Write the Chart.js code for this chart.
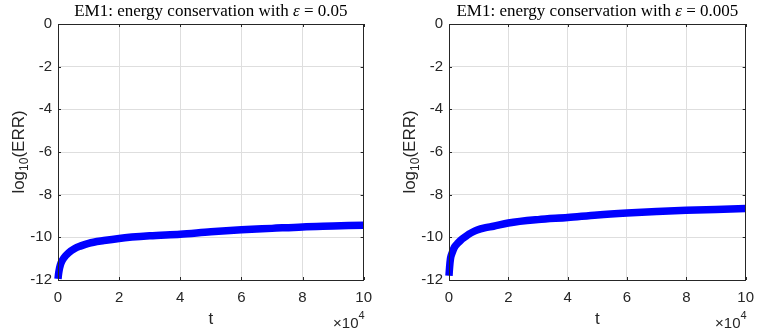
<!DOCTYPE html>
<html>
<head>
<meta charset="utf-8">
<script src="https://cdn.jsdelivr.net/npm/chart.js@4"></script>
<style>
  body { margin: 0; background: #fff; }
  #wrap { position: relative; width: 763px; height: 335px; }
  canvas { position: absolute; top: 0; }
</style>
</head>
<body>
<div id="wrap">
  <canvas id="left" width="381" height="335" style="left:0"></canvas>
  <canvas id="right" width="372" height="335" style="left:391px"></canvas>
</div>
<script>
// values
const tLeft = [0, 200, 500, 1000, 2000, 3500, 5500, 7500, 10000, 15000, 20000,
  30000, 40000, 50000, 60000, 70000, 80000, 90000, 100000];
const errLeft = [-11.95, -11.7, -11.45, -11.2, -10.95, -10.72, -10.52, -10.4, -10.28, -10.15, -10.05,
  -9.93, -9.85, -9.74, -9.65, -9.58, -9.51, -9.47, -9.43];

const tRight = [0, 200, 500, 1000, 1800, 3000, 4000, 5500, 6700, 8000, 9500, 12000, 15000,
  20000, 30000, 40000, 50000, 60000, 70000, 80000, 90000, 100000];
const errRight = [-11.8, -11.4, -11.0, -10.75, -10.47, -10.27, -10.13, -9.97, -9.85, -9.75, -9.66, -9.56, -9.48,
  -9.33, -9.17, -9.07, -8.95, -8.86, -8.79, -8.73, -8.69, -8.65];

const epsValues = ['0.05', '0.005'];
const xTickStep = 20000;
const yTickStep = 2;

const axisColor = '#262626';

// MATLAB-style box, inward ticks, title, y label and exponent
const matlabDecor = {
    id: 'matlabDecor',
    afterDraw(chart, args, opts) {
        const ctx = chart.ctx;
        const a = chart.chartArea;
        const xs = chart.scales.x;
        const ys = chart.scales.y;
        ctx.save();
        ctx.strokeStyle = axisColor;
        ctx.lineWidth = 1;
        ctx.strokeRect(Math.round(a.left) + 0.5, Math.round(a.top) + 0.5,
            Math.round(a.right - a.left) - 1, Math.round(a.bottom - a.top));
        ctx.beginPath();
        xs.ticks.forEach(t => {
            const x = Math.round(xs.getPixelForValue(t.value)) + 0.5;
            ctx.moveTo(x, a.bottom); ctx.lineTo(x, a.bottom - 3);
            ctx.moveTo(x, a.top); ctx.lineTo(x, a.top + 3);
        });
        ys.ticks.forEach(t => {
            const y = Math.round(ys.getPixelForValue(t.value)) + 0.5;
            ctx.moveTo(a.left, y); ctx.lineTo(a.left + 3, y);
            ctx.moveTo(a.right, y); ctx.lineTo(a.right - 3, y);
        });
        ctx.stroke();

        // title
        const parts = [
            ['EM1: energy conservation with ', '17px "Liberation Serif"'],
            ['ε', 'italic 17px "Liberation Serif"'],
            [' = ' + opts.eps, '17px "Liberation Serif"']
        ];
        let total = 0;
        parts.forEach(p => { ctx.font = p[1]; total += ctx.measureText(p[0]).width; });
        let x = (a.left + a.right) / 2 - total / 2;
        ctx.fillStyle = '#000';
        ctx.textBaseline = 'alphabetic';
        parts.forEach(p => {
            ctx.font = p[1];
            ctx.fillText(p[0], x, 16);
            x += ctx.measureText(p[0]).width;
        });

        // y label log10(ERR)
        ctx.save();
        ctx.translate(24, (a.top + a.bottom) / 2);
        ctx.rotate(-Math.PI / 2);
        ctx.fillStyle = axisColor;
        const big = '17px "Liberation Sans"';
        const small = '12px "Liberation Sans"';
        ctx.font = big; const w1 = ctx.measureText('log').width;
        ctx.font = small; const w2 = ctx.measureText('10').width;
        ctx.font = big; const w3 = ctx.measureText('(ERR)').width;
        let lx = -(w1 + w2 + w3) / 2;
        ctx.font = big; ctx.fillText('log', lx, 0); lx += w1;
        ctx.font = small; ctx.fillText('10', lx, 4); lx += w2;
        ctx.font = big; ctx.fillText('(ERR)', lx, 0);
        ctx.restore();

        // x label and exponent
        ctx.fillStyle = axisColor;
        ctx.font = '17px "Liberation Sans"';
        ctx.textAlign = 'center';
        ctx.fillText('t', (a.left + a.right) / 2, 324);
        ctx.textAlign = 'left';
        ctx.font = '15px "Liberation Sans"';
        const e1 = ctx.measureText('×10').width;
        ctx.font = '11px "Liberation Sans"';
        const e2 = ctx.measureText('4').width;
        const ex = a.right - e1 - e2 + 1;
        ctx.font = '15px "Liberation Sans"';
        ctx.fillText('×10', ex, 328);
        ctx.font = '11px "Liberation Sans"';
        ctx.fillText('4', ex + e1, 319);
        ctx.restore();
    }
};

function makeChart(id, tData, errData, eps, padRight) {
    const points = tData.map((t, i) => ({ x: t, y: errData[i] }));
    return new Chart(document.getElementById(id), {
        type: 'scatter',
        data: {
            datasets: [{
                data: points,
                showLine: true,
                borderColor: '#0000ff',
                backgroundColor: '#0000ff',
                borderWidth: 7.5,
                pointRadius: 0,
                cubicInterpolationMode: 'monotone',
                clip: 8
            }]
        },
        options: {
            responsive: false,
            animation: false,
            devicePixelRatio: 1,
            layout: { padding: { left: 0, right: padRight, top: 24, bottom: 0 } },
            plugins: {
                legend: { display: false },
                tooltip: { enabled: false },
                title: { display: false },
                matlabDecor: { eps: eps }
            },
            scales: {
                x: {
                    type: 'linear',
                    min: 0,
                    max: 100000,
                    afterFit: s => { s.height = 55; },
                    grid: { color: '#dedede', drawTicks: false },
                    border: { display: false },
                    ticks: {
                        stepSize: xTickStep,
                        padding: 9,
                        color: axisColor,
                        font: { family: 'Liberation Sans', size: 15 },
                        callback: v => String(v / 10000)
                    }
                },
                y: {
                    min: -12,
                    max: 0,
                    afterFit: s => { s.width = 58; },
                    grid: { color: '#dedede', drawTicks: false },
                    border: { display: false },
                    ticks: {
                        stepSize: yTickStep,
                        padding: 6,
                        color: axisColor,
                        font: { family: 'Liberation Sans', size: 15 }
                    }
                }
            }
        },
        plugins: [matlabDecor]
    });
}

makeChart('left', tLeft, errLeft, epsValues[0], 16);
makeChart('right', tRight, errRight, epsValues[1], 7);
</script>
</body>
</html>
